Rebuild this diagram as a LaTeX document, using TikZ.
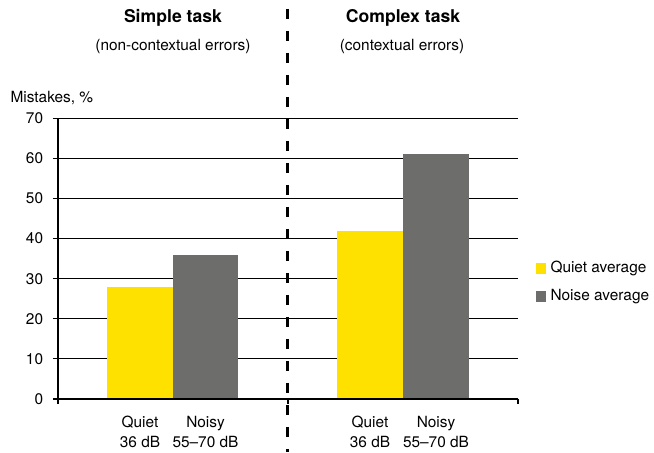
\documentclass[tikz,border=0pt]{standalone}
\usepackage{fontspec}
\setmainfont{TeX Gyre Heros}
\definecolor{quietyellow}{HTML}{FFE100}
\definecolor{noisegray}{HTML}{6D6E6C}
\begin{document}
\begin{tikzpicture}[x=1pt,y=4.01pt,font=\fontsize{15.4}{20}\selectfont]
\useasboundingbox (-58,-13.22) rectangle (596,99.5);

% grid and y axis
\draw [line width=1.2pt] (-5,10) node[left=6pt](y10){10} -- (460,10);
\draw [line width=1.2pt] (-5,20) node[left=6pt](y20){20} -- (460,20);
\draw [line width=1.2pt] (-5,30) node[left=6pt](y30){30} -- (460,30);
\draw [line width=1.2pt] (-5,40) node[left=6pt](y40){40} -- (460,40);
\draw [line width=1.2pt] (-5,50) node[left=6pt](y50){50} -- (460,50);
\draw [line width=1.2pt] (-5,60) node[left=6pt](y60){60} -- (460,60);
\draw [line width=1.2pt] (-5,70) node[left=6pt](y70){70} -- (460,70);
\node [anchor=west] (ylab) at (-51,75.1) {Mistakes, \%};

% bars
\fill [quietyellow] (49,0) rectangle (115,28);
\fill [noisegray] (115,0) rectangle (180,36);
\fill [quietyellow] (279,0) rectangle (345,42);
\fill [noisegray] (345,0) rectangle (411,61);

% axes
\draw [line width=1.2pt] (0,0) -- (0,70);
\draw [line width=1.2pt] (-5,0) node[left=6pt](y0){0} -- (460,0);
\draw [line width=1.2pt] (0,0) -- (0,-1.25);
\draw [line width=1.2pt] (230,0) -- (230,-1.25);
\draw [line width=1.2pt] (460,0) -- (460,-1.25);

% separator
\draw [line width=2.4pt, dash pattern=on 10pt off 12pt] (229.5,97.3) -- (229.5,-13.22);

% titles
\node (simple) at (115,95) {\fontsize{17.6}{20}\selectfont\bfseries Simple task};
\node (simplesub) at (115,87.8) {(non-contextual errors)};
\node (complex) at (345,95) {\fontsize{17.6}{20}\selectfont\bfseries Complex task};
\node (complexsub) at (344,87.8) {(contextual errors)};

% categories
\node [align=center] (q1) at (82,-8.2) {Quiet\\36 dB};
\node [align=center] (n1) at (147.5,-8.2) {Noisy\\55--70 dB};
\node [align=center] (q2) at (312,-8.2) {Quiet\\36 dB};
\node [align=center] (n2) at (378,-8.2) {Noisy\\55--70 dB};

% legend
\fill [quietyellow] (478,31.2) rectangle (488,33.9);
\node [anchor=west] (lq) at (489,32.6) {Quiet average};
\fill [noisegray] (478,24.2) rectangle (488,27.0);
\node [anchor=west] (ln) at (489,25.6) {Noise average};
\end{tikzpicture}
\end{document}
